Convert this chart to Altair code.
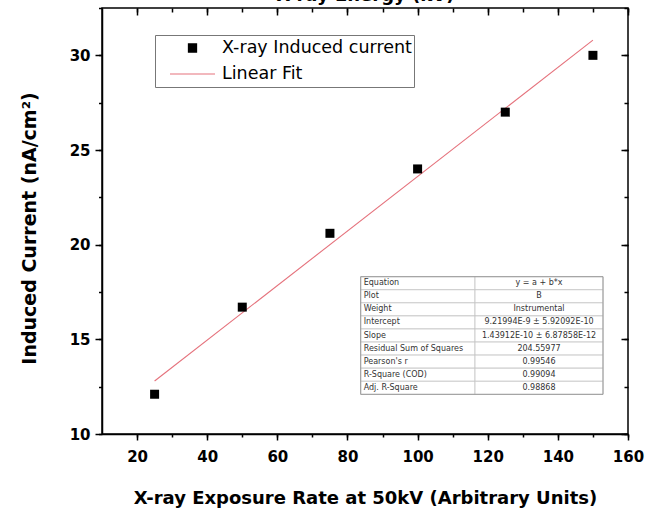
import altair as alt
import pandas as pd

# ---------------- data ----------------
exposure_rate = [25, 50, 75, 100, 125, 150]
induced_current = [12.1, 16.7, 20.6, 24.0, 27.0, 30.0]
fit_rate = [25, 150]
fit_current = [12.8, 30.8]
series_names = ["X-ray Induced current", "Linear Fit"]

x_major_ticks = [20, 40, 60, 80, 100, 120, 140, 160]
x_minor_ticks = [20, 30, 40, 50, 60, 70, 80, 90, 100, 110, 120, 130, 140, 150, 160]
y_major_ticks = [10, 15, 20, 25, 30]
y_minor_ticks = [10, 12.5, 15, 17.5, 20, 22.5, 25, 27.5, 30, 32.5]

stat_names = ["Equation", "Plot", "Weight", "Intercept", "Slope",
              "Residual Sum of Squares", "Pearson's r", "R-Square (COD)", "Adj. R-Square"]
stat_values = ["y = a + b*x", "B", "Instrumental", "9.21994E-9 \u00b1 5.92092E-10",
               "1.43912E-10 \u00b1 6.87858E-12", "204.55977", "0.99546", "0.99094", "0.98868"]

# ---------------- style / layout ----------------
FONT = "DejaVu Sans"
RED = "#e5727c"
W, H = 526, 426
TL, TM, TR, TT, RH = 258.7, 373.0, 501.0, 268.7, 13.07   # stats table geometry (px)

points_df = pd.DataFrame({"rate": exposure_rate, "current": induced_current, "series": series_names[0]})
fit_df = pd.DataFrame({"rate": fit_rate, "current": fit_current, "series": series_names[1]})
table_df = pd.DataFrame({"name": stat_names, "value": stat_values, "row": list(range(len(stat_names)))})

x_scale = alt.Scale(domain=[10, 160], nice=False, zero=False)
y_scale = alt.Scale(domain=[10, 32.5], nice=False, zero=False)

common_tick = dict(grid=False, tickColor="black", tickWidth=1.5)


def plain_axis(orient, values, size, offset=0):
    return alt.Axis(orient=orient, values=values, tickSize=size, offset=offset,
                    domain=False, labels=False, title=None, **common_tick)


ax_bottom = alt.Axis(orient="bottom", values=x_major_ticks, tickSize=6, domain=True,
                     domainColor="black", domainWidth=1.5, labelFont=FONT, labelFontSize=15,
                     labelFontWeight="bold", labelColor="black", labelPadding=9, labelFlush=False,
                     title="X-ray Exposure Rate at 50kV (Arbitrary Units)", titleFont=FONT,
                     titleFontSize=18, titleFontWeight="bold", titleColor="black",
                     titleY=69, titleBaseline="alphabetic", **common_tick)
ax_left = alt.Axis(orient="left", values=y_major_ticks, tickSize=7, domain=True,
                   domainColor="black", domainWidth=1.5, labelFont=FONT, labelFontSize=15,
                   labelFontWeight="bold", labelColor="black", labelPadding=5, labelFlush=False,
                   title="Induced Current (nA/cm\u00b2)", titleFont=FONT, titleFontSize=19,
                   titleFontWeight="bold", titleColor="black", titleAngle=270,
                   titleX=-73, titleY=220, titleBaseline="middle", titleAlign="center",
                   **common_tick)
ax_top = alt.Axis(orient="top", values=x_major_ticks, tickSize=7, offset=-7, domain=False,
                  labels=False, title="X-ray Energy (kV)", titleFont=FONT, titleFontSize=18,
                  titleFontWeight="bold", titleColor="black", titleY=-15,
                  titleBaseline="alphabetic", **common_tick)
ax_right = plain_axis("right", y_major_ticks, 7, -7)

legend = alt.Legend(
    title=None, orient="none", legendX=53, legendY=27, direction="vertical",
    padding=2, strokeColor="#777777", fillColor="white",
    labelFont=FONT, labelFontSize=17.5, labelColor="black", labelLimit=400,
    symbolSize=2025, symbolStrokeWidth=1.2, symbolOffset=12, labelOffset=6,
    clipHeight=22, rowPadding=4,
    symbolType={"expr": "datum.value === 'Linear Fit' ? 'M-1,0H1' : 'M-0.18,-0.18H0.18V0.18H-0.18Z'"},
    symbolStrokeColor={"expr": "datum.value === 'Linear Fit' ? '%s' : 'black'" % RED},
    symbolFillColor={"expr": "datum.value === 'Linear Fit' ? 'transparent' : 'black'"},
    symbolOpacity=1,
)
color = alt.Color("series:N", scale=alt.Scale(domain=series_names, range=["black", RED]), legend=legend)

fit_line = alt.Chart(fit_df).mark_line(strokeWidth=1.1).encode(
    x=alt.X("rate:Q", scale=x_scale, axis=ax_top),
    y=alt.Y("current:Q", scale=y_scale, axis=ax_right),
    color=color,
)

points = alt.Chart(points_df).mark_square(size=81, opacity=1).encode(
    x=alt.X("rate:Q", scale=x_scale, axis=ax_bottom),
    y=alt.Y("current:Q", scale=y_scale, axis=ax_left),
    color=color,
)

minor_bl = alt.Chart(points_df).mark_square(opacity=0).encode(
    x=alt.X("rate:Q", scale=x_scale, axis=plain_axis("bottom", x_minor_ticks, 3)),
    y=alt.Y("current:Q", scale=y_scale, axis=plain_axis("left", y_minor_ticks, 3.5)),
)
minor_tr = alt.Chart(fit_df).mark_line(strokeOpacity=0).encode(
    x=alt.X("rate:Q", scale=x_scale, axis=plain_axis("top", x_minor_ticks, 4, -4)),
    y=alt.Y("current:Q", scale=y_scale, axis=plain_axis("right", y_minor_ticks, 4, -4)),
)

# ---------------- statistics table ----------------
table_base = alt.Chart(table_df).transform_calculate(
    y0=f"{TT} + datum.row * {RH}",
    y1=f"{TT} + (datum.row + 1) * {RH}",
    yc=f"{TT} + (datum.row + 0.5) * {RH}",
)
cells_left = table_base.mark_rect(fill="white", stroke="#c4c4c4", strokeWidth=0.8).encode(
    x=alt.value(TL), x2=alt.value(TM),
    y=alt.Y("y0:Q", scale=None, axis=None), y2="y1:Q",
)
cells_right = table_base.mark_rect(fill="white", stroke="#c4c4c4", strokeWidth=0.8).encode(
    x=alt.value(TM), x2=alt.value(TR),
    y=alt.Y("y0:Q", scale=None, axis=None), y2="y1:Q",
)
outer = alt.Chart(table_df).transform_aggregate(n="count()").transform_calculate(
    ytop=f"{TT}", ybot=f"{TT} + datum.n * {RH}"
).mark_rect(fill=None, stroke="#9a9a9a", strokeWidth=1).encode(
    x=alt.value(TL), x2=alt.value(TR),
    y=alt.Y("ytop:Q", scale=None, axis=None), y2="ybot:Q",
)
names_text = table_base.mark_text(align="left", baseline="middle", font=FONT, fontSize=8,
                                  color="#333333").encode(
    x=alt.value(TL + 3), y=alt.Y("yc:Q", scale=None, axis=None), text="name:N",
)
values_text = table_base.mark_text(align="center", baseline="middle", font=FONT, fontSize=8,
                                   color="#333333").encode(
    x=alt.value((TM + TR) / 2), y=alt.Y("yc:Q", scale=None, axis=None), text="value:N",
)

chart = alt.layer(
    minor_bl, minor_tr, fit_line, points,
    cells_left, cells_right, outer, names_text, values_text,
).resolve_axis(x="independent", y="independent").properties(
    width=W, height=H,
    autosize=alt.AutoSizeParams(type="none"),
    padding={"left": 102, "top": 8, "right": 20, "bottom": 78},
    background="white",
).configure_view(stroke="black", strokeWidth=1.5)

chart.save("out.html", embed_options={"renderer": "svg", "actions": False})
